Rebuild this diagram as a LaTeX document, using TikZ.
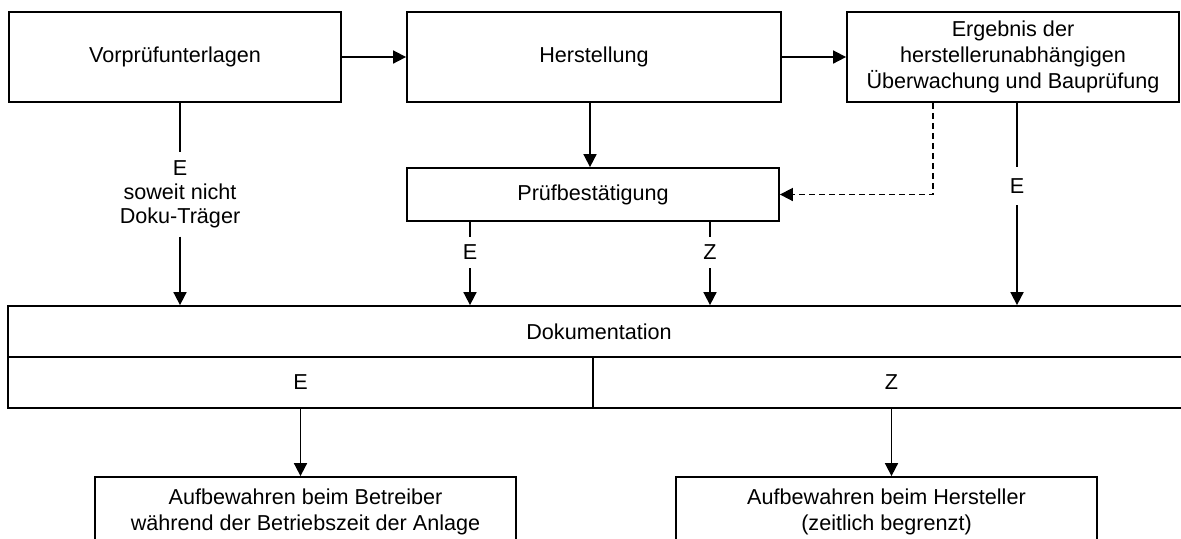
\documentclass[tikz,border=0pt]{standalone}
\usepackage{fontspec}
\setmainfont{Liberation Sans}
\usetikzlibrary{arrows.meta}
\begin{document}
\begin{tikzpicture}[x=0.5pt,y=-0.5pt,
 every node/.style={font=\fontsize{10.8}{13.2}\selectfont},
 box/.style={draw, line width=0.9pt, align=center, inner sep=0pt},
 lab/.style={inner xsep=0pt, align=center},
 conn/.style={line width=0.85pt},
 arr/.style={conn, -{Triangle[length=6.5pt,width=6.5pt]}},
 dsh/.style={dash pattern=on 3pt off 2pt},
]
\useasboundingbox (0,0) rectangle (1181,538);
% boxes
\node[box, minimum width=166pt, minimum height=45pt] (vp) at (175,57) {Vorprüfunterlagen};
\node[box, minimum width=187pt, minimum height=45pt] (hs) at (594,57) {Herstellung};
\node[box, minimum width=166pt, minimum height=45pt] (erg) at (1013,57) {Ergebnis der\\herstellerunabhängigen\\Überwachung und Bauprüfung};
\node[box, minimum width=186pt, minimum height=26.5pt] (pb) at (593,194.5) {Prüfbestätigung};
\node[box, minimum width=591pt, minimum height=25.5pt] (doc) at (599,331.5) {Dokumentation};
\node[box, minimum width=292.5pt, minimum height=25.5pt] (re) at (300.5,382.5) {E};
\node[box, minimum width=298.5pt, minimum height=25.5pt] (rz) at (891.5,382.5) {Z};
\node[box, minimum width=210.5pt, minimum height=35pt] (bt) at (305.5,512) {Aufbewahren beim Betreiber\\während der Betriebszeit der Anlage};
\node[box, minimum width=210.5pt, minimum height=35pt] (hst) at (886.5,512) {Aufbewahren beim Hersteller\\(zeitlich begrenzt)};
% labels
\node[lab, inner ysep=4pt, font=\fontsize{10.8}{12}\selectfont] (l1) at (180,194.5) {E\\soweit nicht\\Doku-Träger};
\node[lab, inner ysep=5.75pt] (l2) at (1017,186) {E};
\node[lab, inner ysep=4pt] (l3) at (470,252.5) {E};
\node[lab, inner ysep=4pt] (l4) at (710,252.5) {Z};
\coordinate (xb) at (590,0);
\coordinate (xd) at (933,0);
% connectors
\draw[arr] (vp) -- (hs);
\draw[arr] (hs) -- (erg);
\draw[arr] (hs.south -| xb) -- (pb.north -| xb);
\draw[arr, dsh] (erg.south -| xd) |- (pb.east);
\draw[conn] (vp.south -| l1) -- (l1.north);
\draw[arr] (l1.south) -- (l1.south |- doc.north);
\draw[conn] (erg.south -| l2) -- (l2.north);
\draw[arr] (l2.south) -- (l2.south |- doc.north);
\draw[conn] (pb.south -| l3) -- (l3.north);
\draw[arr] (l3.south) -- (l3.south |- doc.north);
\draw[conn] (pb.south -| l4) -- (l4.north);
\draw[arr] (l4.south) -- (l4.south |- doc.north);
\draw[arr] (re.south) -- (re.south |- bt.north);
\draw[arr] (rz.south) -- (rz.south |- hst.north);
\end{tikzpicture}
\end{document}
